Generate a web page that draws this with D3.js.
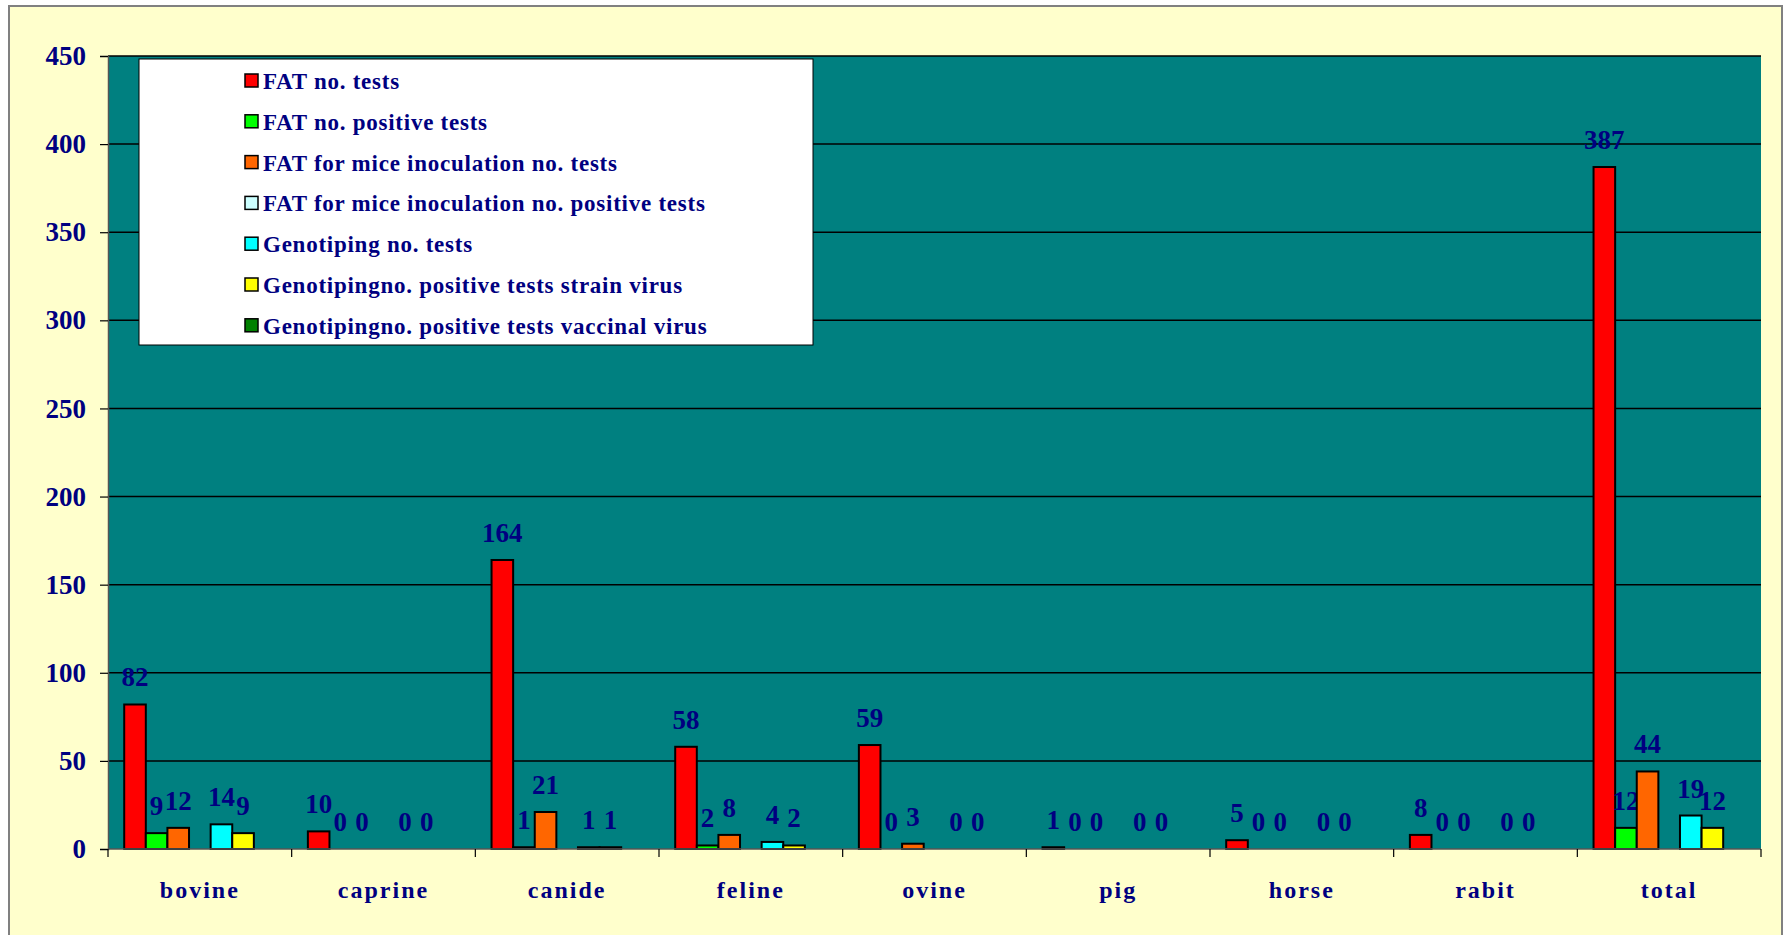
<!DOCTYPE html>
<html>
<head>
<meta charset="utf-8">
<script src="https://cdn.jsdelivr.net/npm/d3@7"></script>
<style>
  body { margin: 0; background: #ffffff; }
  text { font-family: "Liberation Serif", "Times New Roman", serif; font-weight: bold; fill: #000080; }
</style>
</head>
<body>
<div id="chart"></div>
<script>
// categories and series
var categories = ["bovine", "caprine", "canide", "feline", "ovine", "pig", "horse", "rabit", "total"];
var seriesNames = [
  "FAT no. tests",
  "FAT no. positive tests",
  "FAT for mice inoculation no. tests",
  "FAT for mice inoculation no. positive tests",
  "Genotiping no. tests",
  "Genotipingno. positive tests  strain virus",
  "Genotipingno. positive tests vaccinal virus"
];
var seriesColors = ["#ff0000", "#00ff00", "#ff6600", "#ccffff", "#00ffff", "#ffff00", "#008000"];

var fatTests      = [82, 10, 164, 58, 59, 1, 5, 8, 387];
var fatPositive   = [9, 0, 1, 2, 0, 0, 0, 0, 12];
var miceTests     = [12, 0, 21, 8, 3, 0, 0, 0, 44];
var micePositive  = [null, null, null, null, null, null, null, null, null];
var genoTests     = [14, 0, 1, 4, 0, 0, 0, 0, 19];
var genoStrain    = [9, 0, 1, 2, 0, 0, 0, 0, 12];
var genoVaccinal  = [null, null, null, null, null, null, null, null, null];

var yTicks = [0, 50, 100, 150, 200, 250, 300, 350, 400, 450];

var seriesValues = [fatTests, fatPositive, miceTests, micePositive, genoTests, genoStrain, genoVaccinal];

var W = 1785, H = 935;
var plot = {left: 108, top: 56, right: 1761, bottom: 849};

var svg = d3.select("#chart").append("svg")
    .attr("width", W)
    .attr("height", H);

// outer frame
svg.append("rect")
    .attr("x", 9).attr("y", 6)
    .attr("width", 1773).attr("height", 940)
    .attr("fill", "#ffffcc")
    .attr("stroke", "#808080")
    .attr("stroke-width", 2);

var x0 = d3.scaleBand().domain(categories).range([plot.left, plot.right]).padding(0);
var x1 = d3.scaleBand().domain(d3.range(seriesNames.length))
    .range([0, x0.bandwidth()])
    .paddingInner(0).paddingOuter(0.75);
var y = d3.scaleLinear().domain([0, 450]).range([plot.bottom, plot.top]);

// plot background
svg.append("rect")
    .attr("x", plot.left).attr("y", plot.top)
    .attr("width", plot.right - plot.left).attr("height", plot.bottom - plot.top)
    .attr("fill", "#008080");

// gridlines
svg.append("g").selectAll("line")
    .data(yTicks.filter(function(d) { return d > 0; }))
    .enter().append("line")
    .attr("x1", plot.left).attr("x2", plot.right)
    .attr("y1", function(d) { return y(d); })
    .attr("y2", function(d) { return y(d); })
    .attr("stroke", "#000")
    .attr("stroke-width", 1.5);

// y axis
var yAxis = svg.append("g")
    .attr("transform", "translate(" + plot.left + ",0)")
    .call(d3.axisLeft(y).tickValues(yTicks).tickSize(8).tickPadding(14));
yAxis.select(".domain").attr("stroke", "#555").attr("stroke-width", 1.5);
yAxis.selectAll(".tick line").attr("stroke", "#000").attr("stroke-width", 1.2);
yAxis.selectAll(".tick text")
    .attr("fill", "#000080")
    .style("font-size", "27px")
    .style("font-family", "Liberation Serif, serif")
    .style("font-weight", "bold");

// bars
var groups = svg.append("g").selectAll("g")
    .data(categories)
    .enter().append("g")
    .attr("transform", function(d) { return "translate(" + x0(d) + ",0)"; });

groups.each(function(cat, ci) {
  var g = d3.select(this);
  seriesValues.forEach(function(vals, si) {
    var v = vals[ci];
    if (v === null) return;
    if (v > 0) {
      g.append("rect")
        .attr("x", x1(si))
        .attr("y", y(v))
        .attr("width", x1.bandwidth())
        .attr("height", y(0) - y(v))
        .attr("fill", seriesColors[si])
        .attr("stroke", "#000")
        .attr("stroke-width", 2);
    }
    g.append("text")
      .attr("x", x1(si) + x1.bandwidth() / 2)
      .attr("y", y(v) - 18)
      .attr("text-anchor", "middle")
      .style("font-size", "27px")
      .text(v);
  });
});

// x axis
var xAxis = svg.append("g")
    .attr("transform", "translate(0," + plot.bottom + ")");
xAxis.append("line")
    .attr("x1", plot.left).attr("x2", plot.right)
    .attr("stroke", "#555").attr("stroke-width", 1.5);
xAxis.selectAll(".tk")
    .data(categories.concat(["end"]))
    .enter().append("line")
    .attr("class", "tk")
    .attr("x1", function(d, i) { return i < categories.length ? x0(d) : plot.right; })
    .attr("x2", function(d, i) { return i < categories.length ? x0(d) : plot.right; })
    .attr("y1", 0).attr("y2", 8)
    .attr("stroke", "#000").attr("stroke-width", 1.2);
xAxis.selectAll(".lbl")
    .data(categories)
    .enter().append("text")
    .attr("class", "lbl")
    .attr("x", function(d) { return x0(d) + x0.bandwidth() / 2; })
    .attr("y", 49)
    .attr("text-anchor", "middle")
    .style("font-size", "24px")
    .style("letter-spacing", "2px")
    .text(function(d) { return d; });

// legend
var legend = svg.append("g");
legend.append("rect")
    .attr("x", 139).attr("y", 59)
    .attr("width", 674).attr("height", 286)
    .attr("fill", "#fff")
    .attr("stroke", "#000")
    .attr("stroke-width", 1);

var items = legend.selectAll(".item")
    .data(seriesNames)
    .enter().append("g")
    .attr("class", "item")
    .attr("transform", function(d, i) { return "translate(245," + (81 + i * 40.8) + ")"; });
items.append("rect")
    .attr("x", 0).attr("y", -7)
    .attr("width", 13).attr("height", 13)
    .attr("fill", function(d, i) { return seriesColors[i]; })
    .attr("stroke", "#000")
    .attr("stroke-width", 1.5);
items.append("text")
    .attr("x", 18)
    .attr("y", 8)
    .style("font-size", "23px")
    .style("letter-spacing", "0.75px")
    .text(function(d) { return d; });
</script>
</body>
</html>
